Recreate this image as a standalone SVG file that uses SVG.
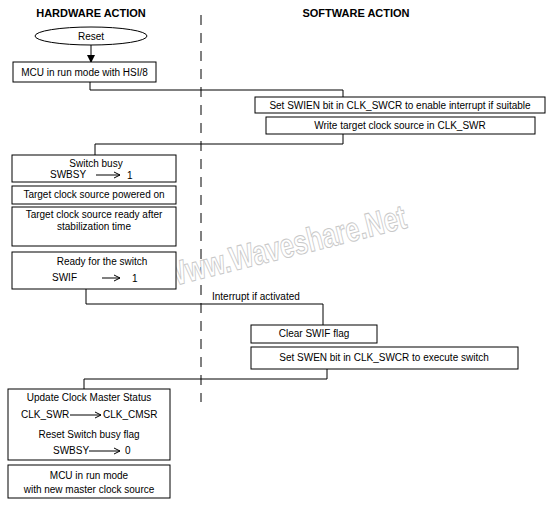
<svg xmlns="http://www.w3.org/2000/svg" width="552" height="505" viewBox="0 0 552 505">
<defs>
<style>
text{font-family:"Liberation Sans",Arial,sans-serif;font-size:10px;fill:#000}
.t{font-weight:bold;font-size:11px;text-anchor:middle}
.c{text-anchor:middle}
.box{fill:#fff;stroke:#000;stroke-width:1}
.ln{fill:none;stroke:#000;stroke-width:1}
.wm{font-size:34px;font-weight:bold;fill:#fff;stroke:#c8c8c8;stroke-width:1;text-anchor:middle}
</style>
<marker id="ah" markerWidth="8" markerHeight="8" refX="7" refY="4" orient="auto" markerUnits="userSpaceOnUse">
<path d="M0,0 L8,4 L0,8 Z" fill="#000"/>
</marker>
</defs>
<rect width="552" height="505" fill="#fff"/>
<text class="t" x="91" y="17">HARDWARE ACTION</text>
<text class="t" x="356" y="17">SOFTWARE ACTION</text>
<line x1="201" y1="15" x2="201" y2="402" stroke="#000" stroke-width="1" stroke-dasharray="10,8"/>
<text class="wm" x="284" y="258" textLength="250" lengthAdjust="spacingAndGlyphs" transform="rotate(-14 284 246)">Www.Waveshare.Net</text>
<g id="connectors">
<line class="ln" x1="91" y1="45" x2="91" y2="62" marker-end="url(#ah)"/>
<polyline class="ln" points="90,82 90,90 343,90 343,97"/>
<polyline class="ln" points="343,134 343,144 95,144 95,155"/>
<polyline class="ln" points="86,289 86,304 323,304 323,325"/>
<polyline class="ln" points="327,369 327,379 84,379 84,389"/>
<text x="212" y="300">Interrupt if activated</text>
</g>
<g id="reset"><ellipse class="box" cx="91" cy="36" rx="56" ry="9"/><text class="c" x="91" y="40">Reset</text></g>
<g id="mcu-hsi"><rect class="box" x="13" y="62" width="143" height="20"/><text class="c" x="84.5" y="76">MCU in run mode with HSI/8</text></g>
<g id="set-swien"><rect class="box" x="255" y="97" width="290" height="16"/><text class="c" x="400" y="109">Set SWIEN bit in CLK_SWCR to enable interrupt if suitable</text></g>
<g id="write-swr"><rect class="box" x="266" y="117" width="269" height="17"/><text class="c" x="400" y="129">Write target clock source in CLK_SWR</text></g>
<g id="switch-busy"><rect class="box" x="12" y="155" width="164" height="27"/><text class="c" x="96" y="167">Switch busy</text><text x="50" y="178">SWBSY</text>
<line class="ln" x1="96" y1="175" x2="120" y2="175"/><polyline class="ln" points="114,172 120,175 114,178"/><text x="127" y="179">1</text></g>
<g id="powered-on"><rect class="box" x="12" y="186" width="164" height="18"/><text class="c" x="94" y="198">Target clock source powered on</text></g>
<g id="ready-after"><rect class="box" x="12" y="207" width="164" height="39"/><text class="c" x="94" y="218">Target clock source ready after</text><text class="c" x="94" y="230">stabilization time</text></g>
<g id="ready-switch"><rect class="box" x="12" y="252" width="164" height="37"/><text class="c" x="102" y="265">Ready for the switch</text><text x="52" y="281">SWIF</text>
<line class="ln" x1="102" y1="278" x2="120" y2="278"/><polyline class="ln" points="114,275 120,278 114,281"/><text x="132" y="282">1</text></g>
<g id="clear-swif"><rect class="box" x="251" y="325" width="126" height="18"/><text class="c" x="314" y="337">Clear SWIF flag</text></g>
<g id="set-swen"><rect class="box" x="251" y="347" width="267" height="22"/><text class="c" x="384" y="361">Set SWEN bit in CLK_SWCR to execute switch</text></g>
<g id="update-status"><rect class="box" x="8" y="389" width="162" height="71"/>
<text class="c" x="89" y="401">Update Clock Master Status</text>
<text x="21" y="418">CLK_SWR</text><line class="ln" x1="70" y1="415" x2="101" y2="415"/><polyline class="ln" points="95,412 101,415 95,418"/><text x="103" y="418">CLK_CMSR</text>
<text class="c" x="89" y="438">Reset Switch busy flag</text>
<text x="53" y="454">SWBSY</text><line class="ln" x1="89" y1="451" x2="120" y2="451"/><polyline class="ln" points="114,448 120,451 114,454"/><text x="125" y="454">0</text></g>
<g id="mcu-new"><rect class="box" x="8" y="465" width="162" height="33"/><text class="c" x="89" y="479">MCU in run mode</text><text class="c" x="89" y="493">with new master clock source</text></g>
</svg>
